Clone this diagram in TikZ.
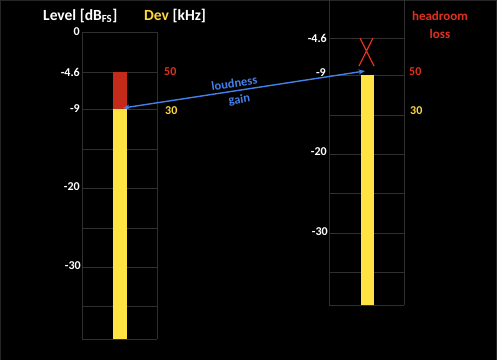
\documentclass[tikz,border=0pt]{standalone}
\usepackage{fontspec}
\setmainfont{Carlito}
\usetikzlibrary{arrows.meta}
\definecolor{gridc}{HTML}{303030}
\definecolor{edgec}{HTML}{262626}
\definecolor{barY}{HTML}{FFE340}
\definecolor{barR}{HTML}{C42A1A}
\definecolor{txtR}{HTML}{E0301E}
\definecolor{txtY}{HTML}{FFD83A}
\definecolor{arrB}{HTML}{4480E8}
\tikzset{
  gridline/.style={draw=gridc, line width=0.8pt},
  axlab/.style={text=white, font=\bfseries\fontsize{12}{12}\selectfont, anchor=east, inner sep=0pt},
  devlab/.style={font=\bfseries\fontsize{12}{12}\selectfont, anchor=west, inner sep=0pt},
  ttl/.style={text=white, font=\bfseries\fontsize{15.5}{15.5}\selectfont, anchor=west, inner sep=0pt},
  bluetxt/.style={text=arrB, font=\bfseries\fontsize{12.5}{12.5}\selectfont, inner sep=0.5pt},
  gainarrow/.style={draw=arrB, line width=1.4pt, arrows={Stealth[length=6.5pt,width=5pt]-Stealth[length=6.5pt,width=5pt]}}
}
\begin{document}
\begin{tikzpicture}[x=1pt,y=-1pt]
\fill[black] (0,0) rectangle (497,360);
\useasboundingbox (0,0) rectangle (497,360);
\draw[edgec, line width=0.8pt] (0.4,360) -- (0.4,0.4) -- (496.6,0.4) -- (496.6,360);
% left grid
\foreach \yy in {32,72,109,149,188,228,267,306,339}
  \draw[gridline] (82,\yy) -- (157,\yy);
\draw[gridline] (82,32) -- (82,339);
\draw[gridline] (157,32) -- (157,339);
% right grid
\foreach \yy in {38,75,115,154,193,233,272,305}
  \draw[gridline] (329,\yy) -- (404,\yy);
\draw[gridline] (329,0) -- (329,305);
\draw[gridline] (404,0) -- (404,305);
% bars
\fill[barR] (113,72) rectangle (127,109);
\fill[barY] (113,109) rectangle (127,339);
\fill[barY] (361,75) rectangle (374,305);
% titles
\node[ttl] (lvl) at (43,16) {Level [dB\textsubscript{FS}]};
\node[ttl] (dev) at (144,16) {\textcolor{txtY}{Dev} [kHz]};
% left axis labels
\node[axlab] (l0) at (80,32) {0};
\node[axlab] (l46) at (80,72) {-4.6};
\node[axlab] (l9) at (80,109) {-9};
\node[axlab] (l20) at (80,187) {-20};
\node[axlab] (l30) at (81,266) {-30};
\node[devlab, text=txtR] (l50) at (164,72) {50};
\node[devlab, text=txtY] (l30k) at (165,111) {30};
% right axis labels
\node[axlab] (r46) at (327,38) {-4.6};
\node[axlab] (r9) at (326,73) {-9};
\node[axlab] (r20) at (327,152) {-20};
\node[axlab] (r30) at (328,232) {-30};
\node[devlab, text=txtR] (r50) at (409,72) {50};
\node[devlab, text=txtY] (r30k) at (410,111) {30};
% headroom loss
\node[text=txtR, font=\bfseries\fontsize{13}{18}\selectfont, align=center, inner sep=0pt] (hl) at (440,25) {headroom\\loss};
% X
\draw[txtR, line width=1.2pt] (360,38) -- (374,66) (373,38) -- (359,66);
% loudness gain arrow
\coordinate (gL) at (123,108);
\coordinate (gR) at (365,71);
\draw[gainarrow] (gL) -- (gR)
  node[bluetxt, pos=0.465, sloped, above=2.5pt] (lt) {loudness}
  node[bluetxt, pos=0.475, sloped, below=3pt] (gt) {gain};
\end{tikzpicture}
\end{document}
